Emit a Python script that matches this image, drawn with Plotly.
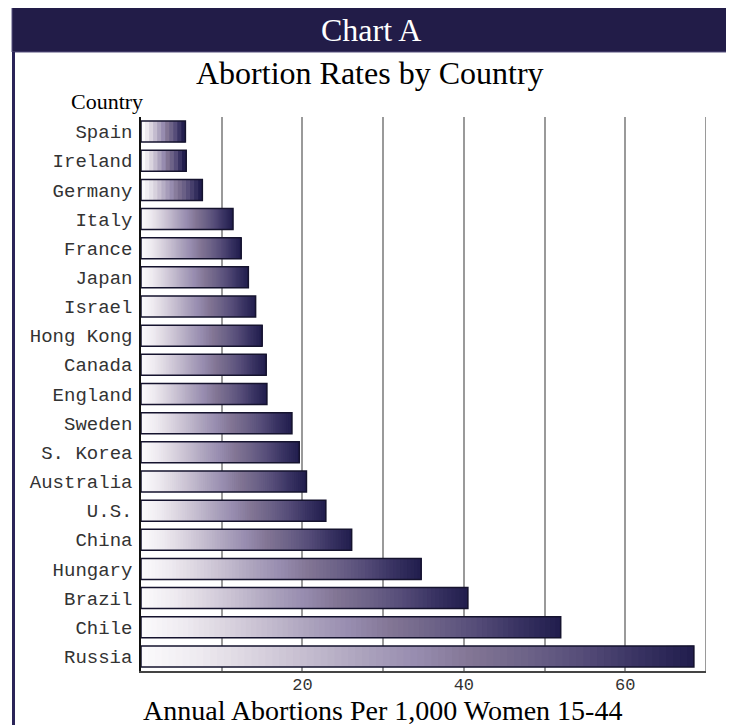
import numpy as np
import plotly.graph_objects as go

# ---------------- data ----------------
countries = ["Spain", "Ireland", "Germany", "Italy", "France", "Japan", "Israel",
             "Hong Kong", "Canada", "England", "Sweden", "S. Korea", "Australia",
             "U.S.", "China", "Hungary", "Brazil", "Chile", "Russia"]
rates = [5.5, 5.6, 7.6, 11.4, 12.4, 13.3, 14.2, 15.0, 15.5, 15.6, 18.7, 19.6,
         20.5, 22.9, 26.1, 34.7, 40.5, 52.0, 68.5]
x_tickvals = [20, 40, 60]
x_ticktext = ["20", "40", "60"]

# ---------------- style ----------------
OFF = 8                                   # page body margin
W, H = 734 - OFF, 725 - OFF
L, R, T, B = 141 - OFF, 706 - OFF, 117 - OFF, 671 - OFF   # plot area (px)
NAVY = "#221c48"
SERIF = "Liberation Serif"
MONO = "Liberation Mono"

stops = [(0.00, "#fbfafc"), (0.10, "#eeeaf0"), (0.20, "#dad4df"), (0.30, "#c4bccf"),
         (0.40, "#aca3bd"), (0.50, "#978caf"), (0.60, "#827594"), (0.70, "#6d6388"),
         (0.80, "#564d79"), (0.90, "#3a3463"), (1.00, "#221e4e")]


def hex2rgb(h):
    h = h.lstrip("#")
    return np.array([int(h[i:i + 2], 16) for i in (0, 2, 4)], dtype=float)


stop_pos = np.array([s[0] for s in stops])
stop_rgb = np.array([hex2rgb(s[1]) for s in stops])


def grad(t):
    c = [np.interp(t, stop_pos, stop_rgb[:, k]) for k in range(3)]
    return "rgb(%d,%d,%d)" % tuple(int(round(v)) for v in c)


def px(xp):          # reference-screen pixel x -> paper fraction
    return (xp - OFF - L) / (R - L)


def py(yp):          # reference-screen pixel y -> paper fraction
    return (B - (yp - OFF)) / (B - T)


# gradient segments: each segment runs from its start to the bar end,
# later (darker) segments drawn on top
seg_y, seg_base, seg_len, seg_col = [], [], [], []
for c, v in zip(countries, rates):
    bands = int(v * 2) if v < 10 else 80
    for i in range(bands):
        b0 = v * i / bands
        seg_y.append(c)
        seg_base.append(b0)
        seg_len.append(v - b0)
        seg_col.append(grad(i / (bands - 1)))

fig = go.Figure()
fig.add_trace(go.Bar(
    y=seg_y, x=seg_len, base=seg_base, orientation="h",
    marker=dict(color=seg_col, line=dict(width=0)),
    hoverinfo="skip", showlegend=False,
))
fig.add_trace(go.Bar(
    y=countries, x=rates, orientation="h",
    marker=dict(color="rgba(0,0,0,0)", line=dict(color="#15132e", width=1.5)),
    showlegend=False,
))

fig.update_layout(
    width=W, height=H,
    margin=dict(l=L, r=W - R, t=T, b=H - B, pad=0),
    paper_bgcolor="white", plot_bgcolor="white",
    barmode="overlay", bargap=0.28,
    xaxis=dict(
        range=[0, 70], tickmode="array", tickvals=x_tickvals, ticktext=x_ticktext,
        showgrid=True, gridcolor="#9a9a9a", gridwidth=2,
        minor=dict(tickmode="linear", tick0=0, dtick=10, showgrid=True,
                   gridcolor="#9a9a9a", gridwidth=2),
        showline=True, linecolor="#444444", linewidth=2,
        ticks="", ticklen=0, ticklabelstandoff=-3,
        tickfont=dict(family=MONO, size=17, color="#333333"),
        zeroline=False,
    ),
    yaxis=dict(
        categoryorder="array", categoryarray=countries, autorange="reversed",
        showgrid=False, showline=True, linecolor="#111111", linewidth=1.5,
        ticks="outside", ticklen=3, tickcolor="rgba(0,0,0,0)",
        tickfont=dict(family=MONO, size=19, color="#333333"),
    ),
    shapes=[
        # right edge of plot at 70
        dict(type="line", xref="x", yref="paper", x0=70, x1=70, y0=0, y1=1,
             line=dict(color="#9a9a9a", width=2)),
        # header bar
        dict(type="rect", xref="paper", yref="paper",
             x0=px(12), x1=px(729.5), y0=py(52), y1=py(7),
             fillcolor=NAVY, line=dict(color="#57507f", width=1)),
        # frame sides
        dict(type="line", xref="paper", yref="paper", x0=px(13.5), x1=px(13.5),
             y0=py(52), y1=py(730), line=dict(color="#2a2458", width=3)),
        dict(type="line", xref="paper", yref="paper", x0=px(728), x1=px(728),
             y0=py(52), y1=py(730), line=dict(color="#2a2458", width=3)),
    ],
    annotations=[
        dict(text="Chart A", xref="paper", yref="paper", x=px(371), y=py(30),
             xanchor="center", yanchor="middle", showarrow=False,
             font=dict(family=SERIF, size=32, color="white")),
        dict(text="Abortion Rates by Country", xref="paper", yref="paper",
             x=px(370), y=py(73), xanchor="center", yanchor="middle",
             showarrow=False, font=dict(family=SERIF, size=32, color="black")),
        dict(text="Country", xref="paper", yref="paper", x=px(69), y=py(101),
             xanchor="left", yanchor="middle", showarrow=False,
             font=dict(family=SERIF, size=22, color="black")),
        dict(text="Annual Abortions Per 1,000 Women 15-44", xref="paper",
             yref="paper", x=px(382), y=py(710), xanchor="center",
             yanchor="middle", showarrow=False,
             font=dict(family=SERIF, size=28, color="black")),
    ],
)

fig.write_html("out.html")
